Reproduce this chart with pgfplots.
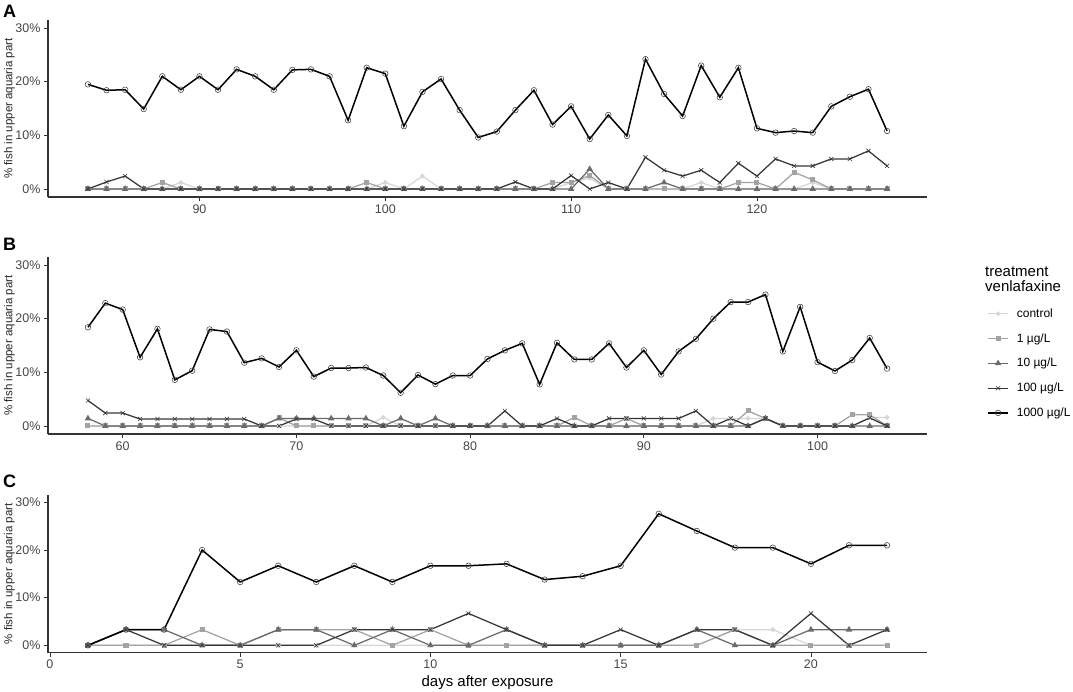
\documentclass[border=0pt]{standalone}
\usepackage{pgfplots}
\pgfplotsset{compat=1.18}
\usepackage{pgfplotstable}
\usepackage{fontspec}
\setmainfont{Liberation Sans}

\definecolor{cctrl}{HTML}{D6D6D6}
\definecolor{cone}{HTML}{A3A3A3}
\definecolor{cten}{HTML}{6B6B6B}
\definecolor{chun}{HTML}{363636}
\definecolor{cthou}{HTML}{000000}

% ---------- Panel A (days 84-127) ----------
\pgfplotstableread{
day ctrl one ten hun thou
84 0 0 0 0 19.5
85 0 0 0 1.3 18.4
86 0 0 0 2.4 18.5
87 0 0 0 0 14.9
88 0 1.2 0 0 21.0
89 1.2 0 0 0 18.5
90 0 0 0 0 21.0
91 0 0 0 0 18.5
92 0 0 0 0 22.3
93 0 0 0 0 21.0
94 0 0 0 0 18.5
95 0 0 0 0 22.2
96 0 0 0 0 22.3
97 0 0 0 0 21.0
98 0 0 0 0 12.8
99 0 1.2 0 0 22.6
100 1.2 0 0 0 21.5
101 0 0 0 0 11.7
102 2.4 0 0 0 18.1
103 0 0 0 0 20.5
104 0 0 0 0 14.7
105 0 0 0 0 9.6
106 0 0 0 0 10.7
107 0 0 0 1.3 14.7
108 0 0 0 0 18.4
109 0 1.2 0 0 12.0
110 1.2 1.2 0 2.5 15.4
111 2.0 2.5 3.7 0 9.3
112 0 0 0 1.2 13.8
113 0 0 0 0 9.9
114 0 0 0 5.9 24.2
115 0 0 1.2 3.5 17.7
116 0 0 0 2.4 13.6
117 1.2 0 0 3.5 23.0
118 0 0 0 1.2 17.1
119 0 1.2 0 4.8 22.6
120 0 1.2 0 2.4 11.3
121 0 0 0 5.6 10.5
122 0 3.1 0 4.3 10.8
123 1.2 1.7 0 4.3 10.5
124 0 0 0 5.6 15.4
125 0 0 0 5.6 17.2
126 0 0 0 7.1 18.6
127 0 0 0 4.3 10.8
}\tabA

% ---------- Panel B (days 58-104) ----------
\pgfplotstableread{
day ctrl one ten hun thou
58 0 0 1.4 4.75 18.4
59 0 0 0 2.4 22.9
60 0 0 0 2.4 21.7
61 0 0 0 1.3 12.8
62 0 0 0 1.3 18.1
63 0 0 0 1.3 8.6
64 0 0 0 1.3 10.3
65 0 0 0 1.3 18.0
66 0 0 0 1.3 17.6
67 0 0 0 1.3 11.8
68 0 0 0 0 12.6
69 0 1.5 1.4 0 11.0
70 0 0 1.4 1.3 14.1
71 0 0 1.4 1.3 9.2
72 0 0 1.4 0 10.8
73 0 0 1.4 0 10.8
74 0 0 1.4 0 10.9
75 1.6 0 0 0 9.4
76 0 0 1.4 0 6.2
77 0 0 0 0 9.5
78 0 0 1.4 0 7.8
79 0 0 0 0 9.4
80 0 0 0 0 9.4
81 0 0 0 0 12.5
82 0 0 0 2.8 14.1
83 0 0 0 0 15.4
84 0 0 0 0 7.75
85 0 0 0 1.4 15.5
86 0 1.6 0 0 12.4
87 0 0 0 0 12.4
88 0 0 0 1.4 15.4
89 0 1.4 0 1.4 10.9
90 0 0 0 1.4 14.1
91 0 0 0 1.4 9.6
92 0 0 0 1.4 13.9
93 0 0 0 2.8 16.25
94 1.4 0 0 0 20.0
95 1.4 0 0 1.4 23.1
96 1.4 2.8 0 0 23.1
97 1.4 1.4 1.4 1.4 24.5
98 0 0 0 0 13.9
99 0 0 0 0 22.2
100 0 0 0 0 11.9
101 0 0 0 0 10.25
102 0 2.1 0 0 12.3
103 1.6 2.1 0 1.5 16.4
104 1.6 0 0 0 10.7
}\tabB

% ---------- Panel C (days 1-22) ----------
\pgfplotstableread{
day ctrl one ten hun thou
1 0 0 0 0 0
2 0 0 3.3 3.3 3.3
3 0 0 3.3 0 3.3
4 0 3.3 0 0 20.0
5 0 0 0 0 13.3
6 0 3.3 3.3 0 16.7
7 0 3.3 3.3 0 13.3
8 0 3.3 0 3.3 16.7
9 0 0 3.3 3.3 13.3
10 0 3.3 0 3.3 16.7
11 0 0 0 6.7 16.7
12 0 0 3.3 3.3 17.1
13 0 0 0 0 13.8
14 0 0 0 0 14.5
15 0 0 0 3.3 16.7
16 0 0 0 0 27.6
17 0 0 3.3 3.3 24.0
18 3.3 3.3 0 3.3 20.5
19 3.3 0 0 0 20.5
20 0 0 3.3 6.7 17.1
21 0 0 3.3 0 21.0
22 0 0 3.3 3.3 21.0
}\tabC

\pgfplotsset{
  panel/.style={
    scale only axis, width=879pt,
    anchor=south west,
    ymin=-1.5, ymax=31.5,
    axis x line*=bottom, axis y line*=left,
    axis line style={-, line width=1.1pt, black!80},
    tick style={black!80, line width=0.8pt},
    major tick length=4pt, tick align=outside,
    ytick={0,10,20,30}, yticklabels={0\%,10\%,20\%,30\%},
    ticklabel style={font=\fontsize{12.5}{14}\selectfont, text=black!72},
    ylabel={\% fish in upper aquaria part},
    every axis y label/.style={at={(axis description cs:0,0.5)}, xshift=-38.5pt,
      rotate=90, anchor=center, font=\fontsize{11.5}{13}\selectfont, text=black!85},
    clip=false,
  },
  sctrl/.style={cctrl, line width=1.25pt, mark=*, mark size=1.7pt, mark options={solid}},
  sone/.style={cone, line width=1.25pt, mark=square*, mark size=1.9pt, mark options={solid}},
  sten/.style={cten, line width=1.25pt, mark=triangle*, mark size=2.5pt, mark options={solid}},
  shun/.style={chun, line width=1.25pt, mark=x, mark size=2.9pt, mark options={solid, line width=0.6pt}},
  sthou/.style={cthou, line width=1.5pt, mark=o, mark size=2.8pt, mark options={solid, line width=0.55pt, draw=black!75}},
}

\begin{document}
\begin{tikzpicture}
\useasboundingbox (0pt,0pt) rectangle (1073pt,-691pt);

% Panel A
\begin{axis}[panel, height=177pt, at={(48pt,-197pt)},
  xmin=81.85, xmax=129.15,
  xtick={90,100,110,120}, xticklabels={90,100,110,120}]
\addplot[sctrl] table[x=day,y=ctrl]{\tabA};
\addplot[sone] table[x=day,y=one]{\tabA};
\addplot[sten] table[x=day,y=ten]{\tabA};
\addplot[shun] table[x=day,y=hun]{\tabA};
\addplot[sthou] table[x=day,y=thou]{\tabA};
\end{axis}

% Panel B
\begin{axis}[panel, height=177pt, at={(48pt,-434pt)},
  xmin=55.7, xmax=106.3,
  xtick={60,70,80,90,100}, xticklabels={60,70,80,90,100},
  legend style={at={(1.065,0.732)}, anchor=north west, draw=none, fill=none,
    font=\fontsize{12}{14}\selectfont, row sep=10.6pt,
    nodes={inner sep=2pt},
    /tikz/every odd column/.append style={column sep=6pt}},
  legend cell align=left,
  legend image code/.code={\draw[mark repeat=2,mark phase=2,#1] plot coordinates {(0pt,0pt) (10pt,0pt) (20pt,0pt)};}]
\addplot[sctrl] table[x=day,y=ctrl]{\tabB};
\addlegendentry{control}
\addplot[sone] table[x=day,y=one]{\tabB};
\addlegendentry{1 µg/L}
\addplot[sten] table[x=day,y=ten]{\tabB};
\addlegendentry{10 µg/L}
\addplot[shun] table[x=day,y=hun]{\tabB};
\addlegendentry{100 µg/L}
\addplot[sthou] table[x=day,y=thou]{\tabB};
\addlegendentry{1000 µg/L}
\end{axis}

% Panel C
\begin{axis}[panel, height=157.3pt, at={(48pt,-652.5pt)},
  xmin=-0.05, xmax=23.05,
  xtick={0,5,10,15,20}, xticklabels={0,5,10,15,20},
  xlabel={days after exposure},
  xlabel style={font=\fontsize{15}{17}\selectfont}]
\addplot[sctrl] table[x=day,y=ctrl]{\tabC};
\addplot[sone] table[x=day,y=one]{\tabC};
\addplot[sten] table[x=day,y=ten]{\tabC};
\addplot[shun] table[x=day,y=hun]{\tabC};
\addplot[sthou] table[x=day,y=thou]{\tabC};
\end{axis}

\node[anchor=north west, inner sep=0pt, font=\bfseries\fontsize{18}{18}\selectfont] at (3pt,-5pt) {A};
\node[anchor=north west, inner sep=0pt, font=\bfseries\fontsize{18}{18}\selectfont] at (3pt,-238pt) {B};
\node[anchor=north west, inner sep=0pt, font=\bfseries\fontsize{18}{18}\selectfont] at (3pt,-475pt) {C};
\node[anchor=base west, inner sep=0pt, align=left, font=\fontsize{15}{15}\selectfont] at (985pt,-291pt) {treatment\\venlafaxine};
\end{tikzpicture}
\end{document}
